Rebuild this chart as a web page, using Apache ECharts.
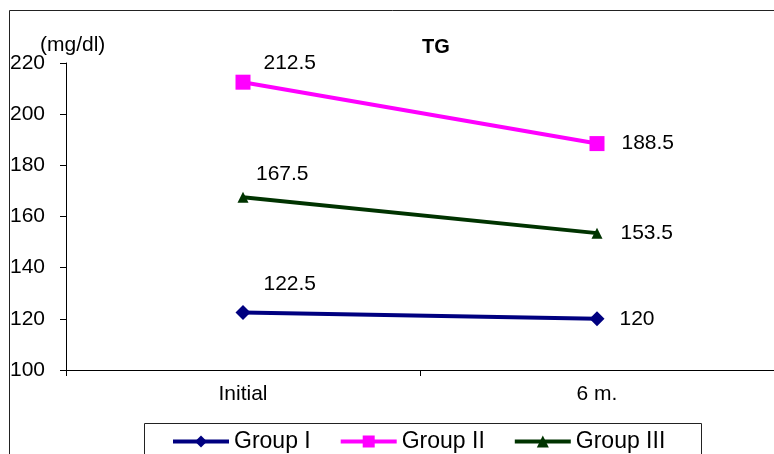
<!DOCTYPE html>
<html>
<head>
<meta charset="utf-8">
<script src="https://cdn.jsdelivr.net/npm/echarts@6/dist/echarts.min.js"></script>
<style>
  html, body { margin: 0; padding: 0; background: #fff; }
  #chart { width: 774px; height: 454px; }
</style>
</head>
<body>
<div id="chart"></div>
<script>
// TG (triglycerides) at baseline and after six months
var categories = ['Initial', '6 m.'];
var groupNames = ['Group I', 'Group II', 'Group III'];
var groupI = [122.5, 120];
var groupII = [212.5, 188.5];
var groupIII = [167.5, 153.5];
var yTicks = { min: 100, max: 220, step: 20 };

var FONT = '"Liberation Sans", Arial, sans-serif';

// first point carries its label above-right, second point to the right
function buildData(values, firstOffsetY, firstDist, secondDist) {
  return values.map(function (v, i) {
    return {
      value: v,
      label: i === 0
        ? { position: 'right', distance: firstDist, offset: [0, firstOffsetY] }
        : { position: 'right', distance: secondDist, offset: [0, 0] }
    };
  });
}

function lineSeries(name, values, color, symbol, size, offY, d1, d2) {
  return {
    name: name,
    type: 'line',
    data: buildData(values, offY, d1, d2),
    symbol: symbol,
    symbolSize: size,
    showAllSymbol: true,
    lineStyle: { color: color, width: 4 },
    itemStyle: { color: color },
    label: {
      show: true,
      color: '#000',
      fontFamily: FONT,
      fontSize: 21,
      formatter: function (p) { return String(p.value); }
    },
    emphasis: { disabled: true },
    animation: false
  };
}

var chart = echarts.init(document.getElementById('chart'));
chart.setOption({
  backgroundColor: '#fff',
  animation: false,
  title: {
    text: 'TG',
    left: 422,
    top: 37,
    padding: 0,
    textStyle: { fontFamily: FONT, fontSize: 20, fontWeight: 'bold', color: '#000' }
  },
  graphic: [
    {
      type: 'rect',
      silent: true,
      shape: { x: 9.5, y: 10.5, width: 900, height: 700 },
      style: { fill: 'none', stroke: '#222', lineWidth: 1 }
    },
    {
      type: 'rect',
      silent: true,
      shape: { x: 144.5, y: 423.5, width: 557, height: 80 },
      style: { fill: '#fff', stroke: '#222', lineWidth: 1 }
    },
    {
      type: 'text',
      silent: true,
      x: 40,
      y: 45,
      style: {
        text: '(mg/dl)',
        font: '21px ' + FONT,
        fill: '#000',
        align: 'left',
        verticalAlign: 'middle'
      }
    }
  ],
  legend: {
    data: groupNames,
    left: 171,
    top: 430,
    padding: 0,
    itemWidth: 56,
    itemHeight: 15,
    itemGap: 28,
    lineStyle: { width: 4 },
    textStyle: { fontFamily: FONT, fontSize: 23, color: '#000' },
    selectedMode: false
  },
  grid: { left: 66, top: 63, width: 709, height: 307, containLabel: false },
  xAxis: {
    type: 'category',
    data: categories,
    boundaryGap: true,
    axisLine: { lineStyle: { color: '#000', width: 1 } },
    axisTick: { show: true, length: 6, lineStyle: { color: '#000' } },
    axisLabel: { fontFamily: FONT, fontSize: 21, color: '#000', margin: 14 },
    splitLine: { show: false }
  },
  yAxis: {
    type: 'value',
    min: yTicks.min,
    max: yTicks.max,
    interval: yTicks.step,
    axisLine: { show: true, lineStyle: { color: '#000', width: 1 } },
    axisTick: { show: true, length: 6, lineStyle: { color: '#000' } },
    axisLabel: { fontFamily: FONT, fontSize: 21, color: '#000', margin: 21 },
    splitLine: { show: false }
  },
  series: [
    lineSeries(groupNames[0], groupI, '#000080', 'diamond', 15, -28.5, 13, 15),
    lineSeries(groupNames[1], groupII, '#ff00ff', 'rect', 15, -18.5, 13, 17),
    lineSeries(groupNames[2], groupIII, '#003300', 'triangle', 11, -23, 7.5, 18)
  ]
});
</script>
</body>
</html>
